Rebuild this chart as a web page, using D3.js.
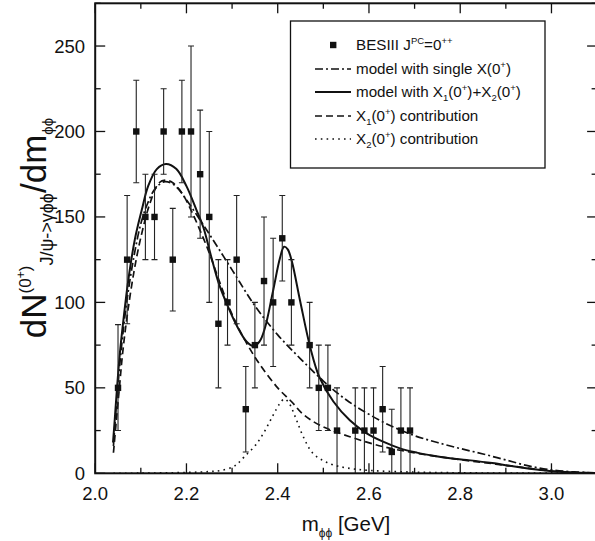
<!DOCTYPE html>
<html><head><meta charset="utf-8">
<script src="https://cdn.jsdelivr.net/npm/d3@7"></script>
<style>body{margin:0;background:#fff}svg{display:block}</style>
</head><body>
<script>
// ---- data ----
const mass   = [2.05,2.07,2.09,2.11,2.13,2.15,2.17,2.19,2.21,2.23,2.25,2.27,2.29,2.31,2.33,2.35,2.37,2.39,2.41,2.43,2.47,2.49,2.51,2.53,2.57,2.59,2.61,2.63,2.65,2.67,2.69];
const counts = [50,125,200,150,150,200,125,200,200,175,150,87.5,100,125,37.5,75,112.5,100,137.5,100,75,50,50,25,25,25,25,37.5,12.5,25,25];
const errLo  = [25,37.5,30,25,25,25,30,30,50,37.5,50,37.5,25,37.5,25,25,37.5,37.5,25,25,25,25,25,25,25,25,25,25,12.5,25,25];
const errHi  = [37,37.5,30,25,25,25,30,30,50,37.5,50,37.5,25,37.5,25,25,37.5,37.5,25,25,25,25,25,25,25,25,25,25,25,25,25];

const solidM = [2.039,2.043,2.047,2.054,2.062,2.072,2.087,2.102,2.116,2.135,2.155,2.178,2.200,2.222,2.237,2.254,2.271,2.291,2.311,2.332,2.347,2.360,2.372,2.390,2.405,2.414,2.422,2.431,2.449,2.471,2.491,2.522,2.558,2.595,2.631,2.668,2.705,2.741,2.778,2.814,2.87,2.93,3.0,3.05,3.1];
const solidV = [18,32,47,70,90,112,137,154,168,178,181,178,168,154,144,127,111,97.5,86,77,74.5,77,85,107,126,132.6,131,124,101,74,56.5,42,31,23.4,18.5,14.6,12.1,10.3,8.8,7.8,6,3.5,1.2,0.5,0.2];

const singleM = [2.040,2.045,2.052,2.06,2.07,2.085,2.10,2.115,2.13,2.15,2.165,2.18,2.2,2.25,2.3,2.35,2.4,2.45,2.5,2.55,2.6,2.65,2.7,2.75,2.8,2.85,2.9,2.95,3.0,3.05,3.1];
const singleV = [16,35,58,80,102,127,146,158,166,170.5,170,167,160,140,119,98,81,67,54,43,34.5,27.5,22,18,14.5,11.3,7.8,4.3,2.0,0.8,0.3];

const x1M = [2.040,2.046,2.053,2.06,2.07,2.085,2.10,2.12,2.14,2.155,2.17,2.19,2.21,2.23,2.25,2.27,2.3,2.33,2.36,2.4,2.43,2.456,2.493,2.558,2.631,2.705,2.778,2.85,2.92,3.0,3.05,3.1];
const x1V = [12,30,50,70,92,118,138,158,170,171.5,170,164,154,142,129,114,93,77,64,50,42,34.5,28,21.4,15.6,11.7,8.8,6.3,4,1.3,0.5,0.2];

const x2M = [2.04,2.10,2.2,2.25,2.274,2.3,2.312,2.327,2.35,2.37,2.39,2.405,2.415,2.425,2.44,2.455,2.476,2.499,2.521,2.55,2.6,2.7,2.8,3.0,3.1];
const x2V = [0.05,0.1,0.5,1,1.6,3.5,5.6,9.7,16,24,34,41,43.5,41,32,22,12,7.5,5,3.2,1.7,0.7,0.3,0.1,0.05];

const xTicks = [2.0,2.2,2.4,2.6,2.8,3.0];
const yTicks = [0,50,100,150,200,250];

// ---- layout ----
const W = 595, H = 541;
const X0 = 95.2, X1 = 597.1, Y0 = 473.3, Y1 = 3.3;
const FONT = "'Liberation Sans', Arial, Helvetica, sans-serif";
const PHI = "\u03d5";

const svg = d3.select("body").append("svg").attr("width", W).attr("height", H)
  .style("font-family", FONT);

const x = d3.scaleLinear().domain([2.0, 3.1]).range([X0, X1]);
const y = d3.scaleLinear().domain([0, 275]).range([Y0, Y1]);

svg.append("clipPath").attr("id","clip").append("rect")
  .attr("x", X0).attr("y", Y1).attr("width", X1 - X0).attr("height", Y0 - Y1);
const plot = svg.append("g").attr("clip-path","url(#clip)");

// curves
const line = d3.line().x(d => x(d[0])).y(d => y(d[1])).curve(d3.curveCatmullRom.alpha(0.5));
const curves = [
  {m: x2M, v: x2V, dash: "1.6,4.2", w: 1.6},
  {m: x1M, v: x1V, dash: "7,4", w: 1.7},
  {m: singleM, v: singleV, dash: "8,3,2,3", w: 1.7},
  {m: solidM, v: solidV, dash: null, w: 2}
];
curves.forEach(c => {
  plot.append("path").datum(d3.zip(c.m, c.v))
    .attr("d", line).attr("fill","none").attr("stroke","#111")
    .attr("stroke-width", c.w).attr("stroke-dasharray", c.dash);
});

// error bars + points
const pts = mass.map((m,i) => ({m, v: counts[i], lo: Math.max(0, counts[i]-errLo[i]), hi: counts[i]+errHi[i]}));
const eb = plot.append("g").attr("stroke","#222").attr("stroke-width",1.1);
pts.forEach(p => {
  eb.append("line").attr("x1", x(p.m)).attr("x2", x(p.m)).attr("y1", y(p.lo)).attr("y2", y(p.hi));
  eb.append("line").attr("x1", x(p.m)-3).attr("x2", x(p.m)+3).attr("y1", y(p.hi)).attr("y2", y(p.hi));
  if (p.lo > 0) eb.append("line").attr("x1", x(p.m)-3).attr("x2", x(p.m)+3).attr("y1", y(p.lo)).attr("y2", y(p.lo));
});
plot.append("g").selectAll("rect").data(pts).join("rect")
  .attr("x", d => x(d.m)-3.2).attr("y", d => y(d.v)-3.2)
  .attr("width", 6.4).attr("height", 6.4).attr("fill","#111");

// axes (ticks inward)
const axG = svg.append("g").attr("stroke","#111");
const xMinor = d3.range(2.0, 3.1001, 0.1);
const yMinor = d3.range(0, 275.01, 25);
xMinor.forEach((t,i) => {
  const L = i % 2 === 0 ? 10 : 5.5;
  axG.append("line").attr("x1", x(t)).attr("x2", x(t)).attr("y1", Y0).attr("y2", Y0 - L).attr("stroke-width",1.3);
  axG.append("line").attr("x1", x(t)).attr("x2", x(t)).attr("y1", Y1).attr("y2", Y1 + L).attr("stroke-width",1.3);
});
yMinor.forEach((t,i) => {
  const L = i % 2 === 0 ? 10 : 5.5;
  axG.append("line").attr("x1", X0).attr("x2", X0 + L).attr("y1", y(t)).attr("y2", y(t)).attr("stroke-width",1.3);
  axG.append("line").attr("x1", X1).attr("x2", X1 - L).attr("y1", y(t)).attr("y2", y(t)).attr("stroke-width",1.3);
});
axG.append("rect").attr("x", X0).attr("y", Y1).attr("width", X1-X0).attr("height", Y0-Y1)
  .attr("fill","none").attr("stroke-width",2);

// tick labels
svg.append("g").selectAll("text").data(xTicks).join("text")
  .attr("x", d => x(d)).attr("y", 500).attr("text-anchor","middle")
  .attr("font-size", 18.5).attr("fill","#111").text(d => d.toFixed(1));
svg.append("g").selectAll("text").data(yTicks).join("text")
  .attr("x", 85).attr("y", d => y(d) + 6.5).attr("text-anchor","end")
  .attr("font-size", 18.5).attr("fill","#111").text(d => d);

function rich(sel, parts) {
  let cur = 0;
  parts.forEach(p => {
    const sh = p.shift || 0;
    sel.append("tspan").attr("font-size", p.size).attr("dy", sh - cur).text(p.t);
    cur = sh;
  });
}

// axis titles
const xt = svg.append("text").attr("x", 346).attr("y", 531).attr("text-anchor","middle").attr("fill","#111");
rich(xt, [{t:"m", size:20.5}, {t:PHI+PHI, size:12, shift:6}, {t:" [GeV]", size:20.5, shift:0}]);

const yt = svg.append("text").attr("transform","translate(46,228) rotate(-90)").attr("text-anchor","middle").attr("fill","#111");
rich(yt, [
  {t:"dN", size:35},
  {t:"(0", size:17, shift:-15},
  {t:"+", size:12, shift:-21},
  {t:")", size:17, shift:-15},
  {t:"J/\u03c8->\u03b3"+PHI+PHI, size:18, shift:7},
  {t:"/dm", size:35, shift:0},
  {t:PHI+PHI, size:15, shift:7}
]);

// legend
const lg = svg.append("g");
lg.append("rect").attr("x", 290.5).attr("y", 21).attr("width", 254.5).attr("height", 147)
  .attr("fill","#fff").attr("stroke","#111").attr("stroke-width",1.3);
const lgY = [45, 69, 92, 116, 139];
const lgStyles = [null, "8,3,2,3", null, "7,4", "1.6,4.2"];
const FS = 15.2, SS = 9.5;
const lgText = [
  [{t:"BESIII J"},{t:"PC",size:SS,shift:-6},{t:"=0",shift:0},{t:"++",size:SS,shift:-6}],
  [{t:"model with single X(0"},{t:"+",size:SS,shift:-6},{t:")",shift:0}],
  [{t:"model with X"},{t:"1",size:SS,shift:4},{t:"(0",shift:0},{t:"+",size:SS,shift:-6},{t:")+X",shift:0},{t:"2",size:SS,shift:4},{t:"(0",shift:0},{t:"+",size:SS,shift:-6},{t:")",shift:0}],
  [{t:"X"},{t:"1",size:SS,shift:4},{t:"(0",shift:0},{t:"+",size:SS,shift:-6},{t:") contribution",shift:0}],
  [{t:"X"},{t:"2",size:SS,shift:4},{t:"(0",shift:0},{t:"+",size:SS,shift:-6},{t:") contribution",shift:0}]
];
lgY.forEach((yy,i) => {
  if (i === 0) {
    lg.append("rect").attr("x", 330).attr("y", yy-3.2).attr("width",6.4).attr("height",6.4).attr("fill","#111");
  } else {
    lg.append("line").attr("x1", 315).attr("x2", 351).attr("y1", yy).attr("y2", yy)
      .attr("stroke","#111").attr("stroke-width", i===2 ? 2 : 1.7).attr("stroke-dasharray", lgStyles[i]);
  }
  const t = lg.append("text").attr("x", 356).attr("y", yy + 5).attr("fill","#111");
  rich(t, lgText[i].map(p => ({t:p.t, size:p.size || FS, shift:p.shift || 0})));
});
</script>
</body></html>
